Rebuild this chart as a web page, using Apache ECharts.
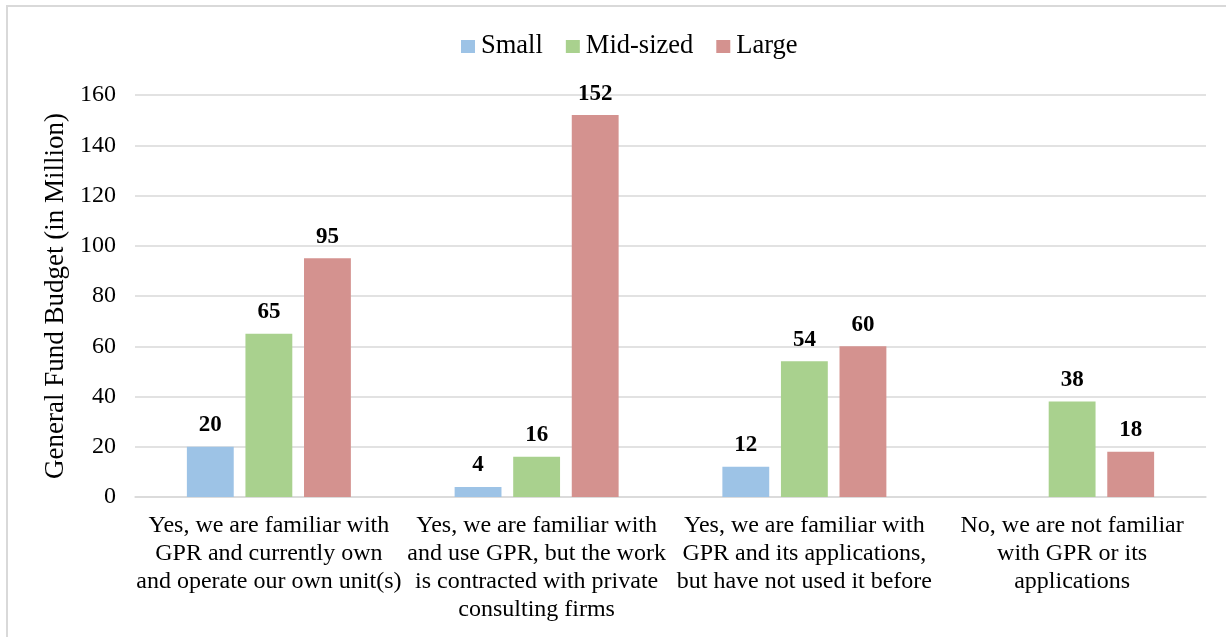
<!DOCTYPE html>
<html>
<head>
<meta charset="utf-8">
<script src="https://cdn.jsdelivr.net/npm/echarts@6/dist/echarts.min.js"></script>
<style>
  html, body { margin: 0; padding: 0; background: #ffffff; }
  #chart { width: 1226px; height: 637px; }
</style>
</head>
<body>
<div id="chart"></div>
<script>
// Survey responses: general fund budget by agency size
const categories = [
  'Yes, we are familiar with\nGPR and currently own\nand operate our own unit(s)',
  'Yes, we are familiar with\nand use GPR, but the work\nis contracted with private\nconsulting firms',
  'Yes, we are familiar with\nGPR and its applications,\nbut have not used it before',
  'No, we are not familiar\nwith GPR or its\napplications'
];
const smallValues = [20, 4, 12, null];
const midValues = [65, 16, 54, 38];
const largeValues = [95, 152, 60, 18];
const seriesNames = ['Small', 'Mid-sized', 'Large'];

const FONT = '"Liberation Serif", "Times New Roman", serif';
const colors = ['#9dc3e6', '#a9d18e', '#d4928f'];

const chart = echarts.init(document.getElementById('chart'), null, { renderer: 'canvas' });

const labelStyle = {
  show: true,
  position: 'top',
  distance: 10,
  fontFamily: FONT,
  fontSize: 23,
  fontWeight: 'bold',
  color: '#000000'
};

function makeSeries(name, data, color) {
  return {
    name: name,
    type: 'bar',
    data: data,
    barWidth: '17.5%',
    barGap: '25%',
    itemStyle: { color: color },
    label: labelStyle
  };
}

chart.setOption({
  animation: false,
  backgroundColor: '#ffffff',
  textStyle: { fontFamily: FONT },
  graphic: [{
    type: 'polyline',
    shape: { points: [[7, 640], [7, 6], [1230, 6]] },
    style: { stroke: '#d9d9d9', lineWidth: 2, fill: null },
    silent: true
  }],
  legend: {
    top: 28,
    left: 456,
    itemWidth: 14,
    itemHeight: 13,
    itemGap: 23,
    icon: 'rect',
    textStyle: { fontFamily: FONT, fontSize: 26.5, color: '#000000', padding: [0, 0, 0, 1] },
    data: seriesNames
  },
  grid: { left: 135, right: 20, top: 95, bottom: 140, containLabel: false },
  xAxis: {
    type: 'category',
    data: categories,
    axisLine: { show: true, lineStyle: { color: '#d9d9d9', width: 1.5 } },
    axisTick: { show: false },
    axisLabel: {
      interval: 0,
      margin: 15,
      fontFamily: FONT,
      fontSize: 24,
      lineHeight: 28,
      color: '#000000',
      align: 'center'
    }
  },
  yAxis: {
    type: 'value',
    min: 0,
    max: 160,
    interval: 20,
    name: 'General Fund Budget (in Million)',
    nameLocation: 'middle',
    nameGap: 65,
    nameTextStyle: { fontFamily: FONT, fontSize: 27, color: '#000000' },
    axisLine: { show: false },
    axisTick: { show: false },
    axisLabel: { fontFamily: FONT, fontSize: 24, color: '#000000', margin: 19 },
    splitLine: { lineStyle: { color: '#d9d9d9', width: 1.5 } }
  },
  series: [
    makeSeries(seriesNames[0], smallValues, colors[0]),
    makeSeries(seriesNames[1], midValues, colors[1]),
    makeSeries(seriesNames[2], largeValues, colors[2])
  ]
});
</script>
</body>
</html>
